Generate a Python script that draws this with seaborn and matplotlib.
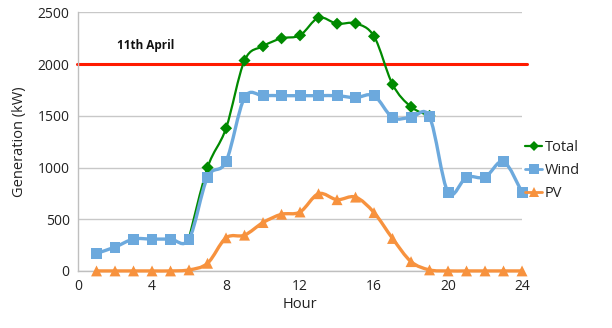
import numpy as np
import pandas as pd
import matplotlib
matplotlib.use("Agg")
import matplotlib.pyplot as plt
from matplotlib.path import Path
from matplotlib.patches import PathPatch
from matplotlib.lines import Line2D
import seaborn as sns

hours = list(range(1, 25))
wind = [170, 231, 308, 308, 308, 308, 907, 1058, 1676, 1695, 1695, 1695,
        1695, 1695, 1676, 1695, 1484, 1484, 1490, 760, 907, 907, 1058, 760]
pv = [0, 0, 0, 0, 0, 10, 74, 320, 346, 468, 548, 570,
      747, 689, 714, 564, 314, 90, 10, 0, 0, 0, 0, 0]
total_hours = list(range(6, 20))
total = [318, 1000, 1380, 2035, 2173, 2250, 2279, 2449, 2391, 2394,
         2269, 1805, 1587, 1500]
threshold = 2000
threshold_label = "11th April"

series_names = ["Total", "Wind", "PV"]
colors = {"Total": "#008A00", "Wind": "#6CA9DD", "PV": "#F7923E"}
markers = {"Total": "D", "Wind": "s", "PV": "^"}
msizes = {"Total": 38, "Wind": 62, "PV": 62}

sns.set_style("white")
plt.rcParams["font.family"] = ["Open Sans", "DejaVu Sans"]

fig = plt.figure(figsize=(6.12, 3.28), dpi=100)
ax = fig.add_axes([0.1275, 0.174, 0.7255, 0.788])


def smooth_path(xs, ys):
    """Cubic Bezier path through the points (Catmull-Rom style tangents)."""
    pts = np.column_stack([xs, ys]).astype(float)
    n = len(pts)
    verts = [pts[0]]
    codes = [Path.MOVETO]
    for i in range(n - 1):
        p0 = pts[i - 1] if i > 0 else pts[i]
        p1 = pts[i]
        p2 = pts[i + 1]
        p3 = pts[i + 2] if i + 2 < n else pts[i + 1]
        c1 = p1 + (p2 - p0) / 6.0
        c2 = p2 - (p3 - p1) / 6.0
        verts += [c1, c2, p2]
        codes += [Path.CURVE4] * 3
    return Path(verts, codes)


frames = {
    "Total": pd.DataFrame({"Hour": total_hours, "kW": total}),
    "Wind": pd.DataFrame({"Hour": hours, "kW": wind}),
    "PV": pd.DataFrame({"Hour": hours, "kW": pv}),
}
widths = {"Total": 1.6, "Wind": 2.4, "PV": 2.4}
order = ["PV", "Total", "Wind"]
for z, name in enumerate(order):
    df = frames[name]
    patch = PathPatch(smooth_path(df["Hour"], df["kW"]), facecolor="none",
                      edgecolor=colors[name], lw=widths[name], zorder=3 + z,
                      capstyle="round", joinstyle="round", clip_on=False)
    ax.add_patch(patch)

for z, name in enumerate(["PV", "Total", "Wind"]):
    df = frames[name]
    if name == "Total":
        df = df[df["Hour"] >= 7]
    sns.scatterplot(data=df, x="Hour", y="kW", marker=markers[name],
                    s=msizes[name], color=colors[name], edgecolor="none",
                    linewidth=0, ax=ax, zorder=6 + z, legend=False,
                    clip_on=False)

ax.axhline(threshold, color="#FF1A00", lw=2.2, zorder=2, xmin=-0.003,
           xmax=1.012, clip_on=False)
ax.text(2.1, 2150, threshold_label, fontsize=8.5, fontweight="bold",
        color="#111111", zorder=10)

ax.set_xlim(0, 24)
ax.set_ylim(0, 2500)
ax.set_xticks(range(0, 25, 4))
ax.set_yticks(range(0, 2501, 500))
ax.yaxis.grid(True, color="#C8C8C8", lw=1.0)
ax.set_axisbelow(True)
for side in ["top", "right"]:
    ax.spines[side].set_visible(False)
for side in ["left", "bottom"]:
    ax.spines[side].set_color("#BFBFBF")
    ax.spines[side].set_linewidth(1.0)
ax.tick_params(axis="both", length=0, labelsize=10, colors="#222222", pad=6)
ax.set_xlabel("Hour", fontsize=10.5, color="#222222", labelpad=2)
ax.set_ylabel("Generation (kW)", fontsize=10.5, color="#222222", labelpad=8)

handles = [Line2D([0], [0], color=colors[n], lw=2 if n != "Total" else 1.6,
                  marker=markers[n], markersize=7 if n != "Total" else 5.5,
                  markeredgewidth=0)
           for n in series_names]
leg = fig.legend(handles, series_names, loc="center left",
                 bbox_to_anchor=(0.848, 0.48), frameon=False, fontsize=10.5,
                 handlelength=1.2, handletextpad=0.15, labelspacing=0.55,
                 borderaxespad=0.0)
for t in leg.get_texts():
    t.set_color("#222222")

fig.savefig("out.png", dpi=100)
